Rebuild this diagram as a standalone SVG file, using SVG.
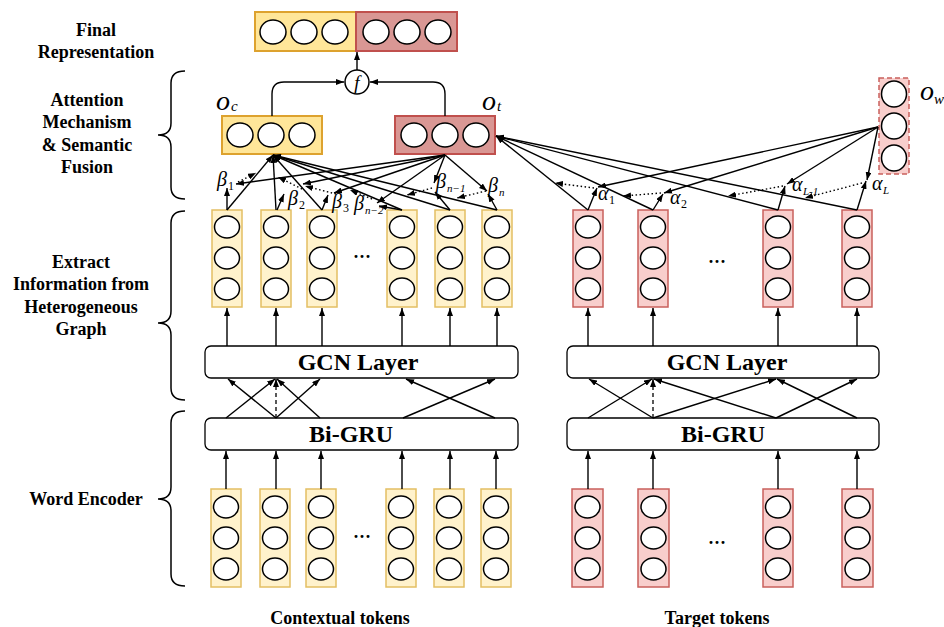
<svg xmlns="http://www.w3.org/2000/svg" width="944" height="627" viewBox="0 0 944 627">
<defs>
<marker id="ah" markerUnits="userSpaceOnUse" markerWidth="8" markerHeight="6" refX="8" refY="3" orient="auto">
<path d="M0,0 L8,3 L0,6 z" fill="#000"/>
</marker>
<style>
.lbl{font-family:"Liberation Serif","Times New Roman",serif;font-weight:bold;font-size:18px;fill:#000;text-anchor:middle}
.big{font-family:"Liberation Serif","Times New Roman",serif;font-weight:bold;font-size:24px;fill:#000;text-anchor:middle}
.it{font-family:"Liberation Serif","Times New Roman",serif;font-style:italic;fill:#000}
.sb{font-family:"Liberation Serif","Times New Roman",serif;fill:#000}
.c{fill:#fff;stroke:#000;stroke-width:1.5}
.ty{fill:#FFF2CC;stroke:#E3BF63;stroke-width:1.5}
.tr{fill:#F8CECC;stroke:#C9605C;stroke-width:1.5}
.fy{fill:#FFE699;stroke:#DDA22E;stroke-width:2}
.fr{fill:#D99794;stroke:#C0504D;stroke-width:2}
.box{fill:#fff;stroke:#000;stroke-width:1.3}
.a{fill:none;stroke:#000;stroke-width:1.4;marker-end:url(#ah)}
.ad{fill:none;stroke:#000;stroke-width:1.3;stroke-dasharray:4,3;marker-end:url(#ah)}
.dt{fill:none;stroke:#000;stroke-width:1.4;stroke-dasharray:1.5,2.5;marker-end:url(#ah)}
.br{fill:none;stroke:#000;stroke-width:1.5}
.dots{font-family:"Liberation Serif",serif;font-weight:bold;font-size:18px;text-anchor:middle}
</style>
<g id="colY">
<ellipse class="c" cx="0" cy="17" rx="12.5" ry="11"/>
<ellipse class="c" cx="0" cy="48" rx="12.5" ry="11"/>
<ellipse class="c" cx="0" cy="79" rx="12.5" ry="11"/>
</g>
</defs>

<g id="labels">
<text class="lbl" x="96" y="36">Final</text>
<text class="lbl" x="96" y="58">Representation</text>
<text class="lbl" x="87" y="106">Attention</text>
<text class="lbl" x="87" y="128">Mechanism</text>
<text class="lbl" x="87" y="151">&amp; Semantic</text>
<text class="lbl" x="87" y="173">Fusion</text>
<text class="lbl" x="81" y="268">Extract</text>
<text class="lbl" x="81" y="290">Information from</text>
<text class="lbl" x="81" y="313">Heterogeneous</text>
<text class="lbl" x="81" y="335">Graph</text>
<text class="lbl" x="86" y="505">Word Encoder</text>
<text class="lbl" x="340" y="624">Contextual tokens</text>
<text class="lbl" x="717" y="624">Target tokens</text>
</g>

<g id="braces">
<path class="br" d="M185,71 Q171,71 171,83 V123 Q171,135 158,135 Q171,135 171,147 V187 Q171,199 185,199"/>
<path class="br" d="M185,211 Q171,211 171,223 V311 Q171,323 158,323 Q171,323 171,335 V388 Q171,400 185,400"/>
<path class="br" d="M185,411 Q171,411 171,423 V487 Q171,499 158,499 Q171,499 171,511 V574 Q171,586 185,586"/>
</g>

<g id="final">
<rect class="fy" x="255" y="12" width="101" height="39"/>
<rect class="fr" x="356" y="12" width="101" height="39"/>
<ellipse class="c" cx="273" cy="32" rx="13" ry="12"/>
<ellipse class="c" cx="304" cy="32" rx="13" ry="12"/>
<ellipse class="c" cx="335" cy="32" rx="13" ry="12"/>
<ellipse class="c" cx="376" cy="32" rx="13" ry="12"/>
<ellipse class="c" cx="407" cy="32" rx="13" ry="12"/>
<ellipse class="c" cx="438" cy="32" rx="13" ry="12"/>
</g>

<g id="fuse">
<circle class="c" cx="357" cy="82" r="12"/>
<text class="it" x="357" y="89" font-size="19" text-anchor="middle">f</text>
</g>

<g id="oc">
<rect class="fy" x="222" y="116" width="100" height="38"/>
<ellipse class="c" cx="240" cy="135" rx="13" ry="12"/>
<ellipse class="c" cx="271" cy="135" rx="13" ry="12"/>
<ellipse class="c" cx="302" cy="135" rx="13" ry="12"/>
<text class="it" x="216" y="110" font-size="28">o</text><text class="it" x="231" y="111" font-size="15">c</text>
</g>

<g id="ot">
<rect class="fr" x="395" y="116" width="100" height="38"/>
<ellipse class="c" cx="414" cy="135" rx="13" ry="12"/>
<ellipse class="c" cx="445" cy="135" rx="13" ry="12"/>
<ellipse class="c" cx="476" cy="135" rx="13" ry="12"/>
<text class="it" x="482" y="110" font-size="28">o</text><text class="it" x="497" y="111" font-size="15">t</text>
</g>

<g id="ow">
<rect x="879" y="78" width="30" height="96" fill="#F8CECC" stroke="#C9605C" stroke-width="1.5" stroke-dasharray="5,3"/>
<ellipse class="c" cx="894" cy="94" rx="12.5" ry="13"/>
<ellipse class="c" cx="894" cy="126" rx="12.5" ry="13"/>
<ellipse class="c" cx="894" cy="158" rx="12.5" ry="13"/>
<text class="it" x="920" y="100" font-size="28">o</text><text class="it" x="934" y="104" font-size="15">w</text>
</g>

<g id="midC">
<rect class="ty" x="212" y="210" width="30" height="97"/><use href="#colY" x="227" y="210"/>
<rect class="ty" x="261" y="210" width="30" height="97"/><use href="#colY" x="276" y="210"/>
<rect class="ty" x="307" y="210" width="30" height="97"/><use href="#colY" x="322" y="210"/>
<rect class="ty" x="387" y="210" width="30" height="97"/><use href="#colY" x="402" y="210"/>
<rect class="ty" x="435" y="210" width="30" height="97"/><use href="#colY" x="450" y="210"/>
<rect class="ty" x="482" y="210" width="30" height="97"/><use href="#colY" x="497" y="210"/>
<text class="dots" x="362" y="263">···</text>
</g>
<g id="midT">
<rect class="tr" x="573" y="210" width="30" height="97"/><use href="#colY" x="588" y="210"/>
<rect class="tr" x="638" y="210" width="30" height="97"/><use href="#colY" x="653" y="210"/>
<rect class="tr" x="763" y="210" width="30" height="97"/><use href="#colY" x="778" y="210"/>
<rect class="tr" x="842" y="210" width="30" height="97"/><use href="#colY" x="857" y="210"/>
<text class="dots" x="717" y="268">···</text>
</g>

<g id="gcnC"><rect class="box" x="205" y="346" width="313" height="32" rx="6"/><text class="big" x="358" y="370">GCN Layer</text></g>
<g id="gcnT"><rect class="box" x="567" y="346" width="312" height="32" rx="6"/><text class="big" x="727" y="370">GCN Layer</text></g>
<g id="gruC"><rect class="box" x="205" y="418" width="313" height="32" rx="6"/><text class="big" x="351" y="442">Bi-GRU</text></g>
<g id="gruT"><rect class="box" x="567" y="418" width="312" height="32" rx="6"/><text class="big" x="723" y="442">Bi-GRU</text></g>

<g id="botC">
<rect class="ty" x="211" y="489" width="30" height="98"/><use href="#colY" x="226" y="490"/>
<rect class="ty" x="260" y="489" width="30" height="98"/><use href="#colY" x="275" y="490"/>
<rect class="ty" x="306" y="489" width="30" height="98"/><use href="#colY" x="321" y="490"/>
<rect class="ty" x="386" y="489" width="30" height="98"/><use href="#colY" x="401" y="490"/>
<rect class="ty" x="434" y="489" width="30" height="98"/><use href="#colY" x="449" y="490"/>
<rect class="ty" x="481" y="489" width="30" height="98"/><use href="#colY" x="496" y="490"/>
<text class="dots" x="362" y="543">···</text>
</g>
<g id="botT">
<rect class="tr" x="572" y="489" width="31" height="98"/><use href="#colY" x="587.5" y="490"/>
<rect class="tr" x="638" y="489" width="31" height="98"/><use href="#colY" x="653.5" y="490"/>
<rect class="tr" x="763" y="489" width="30" height="98"/><use href="#colY" x="778" y="490"/>
<rect class="tr" x="842" y="489" width="31" height="98"/><use href="#colY" x="857.5" y="490"/>
<text class="dots" x="717" y="549">···</text>
</g>

<g id="betas">
<text class="it" x="217" y="186" font-size="20">β</text><text class="sb" x="228" y="190" font-size="12">1</text>
<text class="it" x="288" y="205" font-size="20">β</text><text class="sb" x="299" y="209" font-size="12">2</text>
<text class="it" x="332" y="208" font-size="20">β</text><text class="sb" x="343" y="212" font-size="12">3</text>
<text class="it" x="354" y="210" font-size="20">β</text><text class="it" x="365" y="214" font-size="11">n−2</text>
<text class="it" x="436" y="188" font-size="20">β</text><text class="it" x="447" y="192" font-size="11">n−1</text>
<text class="it" x="488" y="192" font-size="20">β</text><text class="it" x="499" y="196" font-size="11">n</text>
</g>
<g id="alphas">
<text class="it" x="598" y="200" font-size="20">α</text><text class="sb" x="609" y="204" font-size="12">1</text>
<text class="it" x="670" y="204" font-size="20">α</text><text class="sb" x="681" y="208" font-size="12">2</text>
<text class="it" x="792" y="191" font-size="20">α</text><text class="it" x="803" y="195" font-size="11">L-1</text>
<text class="it" x="872" y="190" font-size="20">α</text><text class="it" x="883" y="194" font-size="11">L</text>
</g>

<g id="connectors">
<path class="a" d="M272,116 V94 Q272,82 284,82 H344"/>
<path class="a" d="M445,116 V94 Q445,82 433,82 H370"/>
<path class="a" d="M357,70 V52"/>
<path class="a" d="M226,489 V451"/><path class="a" d="M276,489 V451"/><path class="a" d="M321,489 V451"/>
<path class="a" d="M402,489 V451"/><path class="a" d="M450,489 V451"/><path class="a" d="M496,489 V451"/>
<path class="a" d="M588,489 V451"/><path class="a" d="M653,489 V451"/><path class="a" d="M778,489 V451"/><path class="a" d="M857,489 V451"/>
<path class="a" d="M227,346 V308"/><path class="a" d="M276,346 V308"/><path class="a" d="M322,346 V308"/>
<path class="a" d="M402,346 V308"/><path class="a" d="M450,346 V308"/><path class="a" d="M497,346 V308"/>
<path class="a" d="M588,346 V308"/><path class="a" d="M653,346 V308"/><path class="a" d="M778,346 V308"/><path class="a" d="M857,346 V308"/>
<path class="a" d="M226,418 L275,379"/><path class="a" d="M276,418 L228,379"/><path class="a" d="M276,418 L320,379"/>
<path class="ad" d="M276,418 V379"/><path class="a" d="M320,418 L277,379"/>
<path class="a" d="M403,418 L495,379"/><path class="a" d="M495,418 L406,379"/>
<path class="a" d="M588,418 L652,379"/><path class="a" d="M653,418 L589,379"/><path class="ad" d="M653,418 V379"/>
<path class="a" d="M653,418 L776,379"/><path class="a" d="M776,418 L654,379"/>
<path class="a" d="M776,418 L857,379"/><path class="a" d="M857,418 L777,379"/>
<path class="a" d="M227,210 L273,155"/><path class="a" d="M276,210 L273,155"/><path class="a" d="M322,210 L273,155"/>
<path class="a" d="M402,210 L273,155"/><path class="a" d="M450,210 L273,155"/><path class="a" d="M497,210 L273,155"/>
<path class="a" d="M227,210 V188"/><path class="a" d="M277,210 L284,194"/><path class="a" d="M322,210 L328,195"/>
<path class="a" d="M402,210 L379,206"/><path class="a" d="M450,210 L435,192"/><path class="a" d="M497,210 L488,194"/>
<path class="a" d="M445,155 L236,184"/><path class="a" d="M445,155 L303,184"/><path class="a" d="M445,155 L334,193"/>
<path class="a" d="M445,155 L377,203"/><path class="a" d="M445,155 L434,183"/><path class="a" d="M445,155 L487,191"/>
<path class="dt" d="M238,182 L256,173"/><path class="dt" d="M302,189 L278,177"/><path class="dt" d="M336,194 L305,186"/>
<path class="dt" d="M372,199 L350,190"/><path class="dt" d="M432,188 L407,195"/><path class="dt" d="M486,191 L457,198"/>
<path class="a" d="M588,210 L496,136"/><path class="a" d="M653,210 L496,136"/><path class="a" d="M778,210 L496,136"/><path class="a" d="M857,210 L496,136"/>
<path class="a" d="M588,210 L597,188"/><path class="a" d="M653,210 L663,194"/><path class="a" d="M778,210 L785,186"/><path class="a" d="M857,210 L866,181"/>
<path class="a" d="M878,127 L598,187"/><path class="a" d="M878,127 L664,193"/><path class="a" d="M878,127 L787,184"/><path class="a" d="M878,127 L867,180"/>
<path class="dt" d="M594,188 L555,183"/><path class="dt" d="M661,193 L623,196"/><path class="dt" d="M783,186 L728,196"/><path class="dt" d="M862,183 L805,198"/>
</g>
</svg>
